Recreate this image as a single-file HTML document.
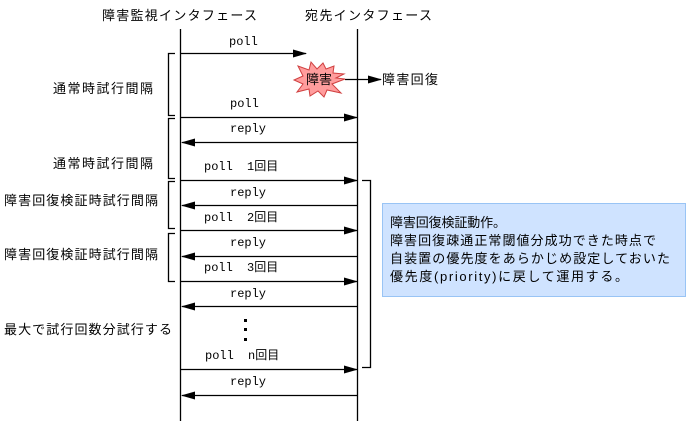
<!DOCTYPE html>
<html><head><meta charset="utf-8"><style>
html,body{margin:0;padding:0;background:#fff;width:688px;height:425px;overflow:hidden}
svg text{font-family:"Liberation Sans","Noto Sans CJK JP",sans-serif;font-size:13px;fill:#000}
svg .m text{font-family:"Liberation Mono","Noto Sans CJK JP",monospace;font-size:12px}
</style></head><body>
<svg width="688" height="425" viewBox="0 0 688 425" xmlns="http://www.w3.org/2000/svg">
<defs><marker id="a" markerWidth="14" markerHeight="8" refX="13" refY="4" orient="auto" markerUnits="userSpaceOnUse"><path d="M0,0 L14,4 L0,8 Z" fill="#000"/></marker></defs>
<text x="102" y="20" textLength="155">障害監視インタフェース</text>
<text x="305" y="20" textLength="127">宛先インタフェース</text>
<g stroke="#000" stroke-width="1.3" fill="none">
<line x1="180.5" y1="29" x2="180.5" y2="421"/>
<line x1="357.5" y1="29" x2="357.5" y2="421"/>
<path d="M175 53.5H168.5V115.5H175"/>
<path d="M175 118.5H168.5V178.5H175"/>
<path d="M175 181.5H168.5V228.5H175"/>
<path d="M175 233.5H168.5V281.5H175"/>
<path d="M362 180.5H370.5V367.5H362"/>
<line x1="181" y1="53.5" x2="306" y2="53.5" marker-end="url(#a)"/>
<line x1="345" y1="79.5" x2="381" y2="79.5" marker-end="url(#a)"/>
<line x1="181" y1="117.5" x2="357" y2="117.5" marker-end="url(#a)"/>
<line x1="357" y1="142.5" x2="182" y2="142.5" marker-end="url(#a)"/>
<line x1="181" y1="180.5" x2="357" y2="180.5" marker-end="url(#a)"/>
<line x1="357" y1="205.5" x2="182" y2="205.5" marker-end="url(#a)"/>
<line x1="181" y1="230.5" x2="357" y2="230.5" marker-end="url(#a)"/>
<line x1="357" y1="256.5" x2="182" y2="256.5" marker-end="url(#a)"/>
<line x1="181" y1="281.5" x2="357" y2="281.5" marker-end="url(#a)"/>
<line x1="357" y1="306.5" x2="182" y2="306.5" marker-end="url(#a)"/>
<line x1="181" y1="369.5" x2="357" y2="369.5" marker-end="url(#a)"/>
<line x1="357" y1="395.5" x2="182" y2="395.5" marker-end="url(#a)"/>
</g>
<polygon points="345,79 332,84 341,93 327,90 324,97 318,91 310,96 309,89 297,92 303,84 294,80 303,76 298,66 309,70 311,62 317,69 323,63 326,69 334,66 333,73 344,74 336,78" fill="#ff9d9d" stroke="#d04040" stroke-width="1"/>
<text x="306" y="84">障害</text>
<text x="382" y="84" textLength="56">障害回復</text>
<g class="m">
<text x="229" y="45">poll</text>
<text x="230" y="107">poll</text>
<text x="230" y="132">reply</text>
<text x="204" y="170">poll</text><text x="247" y="170">1回目</text>
<text x="230" y="196">reply</text>
<text x="204" y="221">poll</text><text x="247" y="221">2回目</text>
<text x="230" y="246">reply</text>
<text x="204" y="271">poll</text><text x="247" y="271">3回目</text>
<text x="230" y="297">reply</text>
<text x="205" y="359">poll</text><text x="248" y="359">n回目</text>
<text x="230" y="385">reply</text>
</g>
<rect x="244" y="319" width="3" height="3" fill="#000"/>
<rect x="244" y="328" width="3" height="3" fill="#000"/>
<rect x="244" y="338" width="3" height="3" fill="#000"/>
<text x="53" y="93" textLength="100">通常時試行間隔</text>
<text x="53" y="168" textLength="100">通常時試行間隔</text>
<text x="4" y="205" textLength="154">障害回復検証時試行間隔</text>
<text x="4" y="259" textLength="154">障害回復検証時試行間隔</text>
<text x="4" y="334" textLength="168">最大で試行回数分試行する</text>
<rect x="382.5" y="203.5" width="303" height="93" fill="#cfe3ff" stroke="#99c4f5" stroke-width="1"/>
<text x="390" y="227" textLength="116">障害回復検証動作。</text>
<text x="390" y="245" textLength="266">障害回復疎通正常閾値分成功できた時点で</text>
<text x="390" y="263" textLength="280">自装置の優先度をあらかじめ設定しておいた</text>
<text x="390" y="281" textLength="238">優先度(priority)に戻して運用する。</text>
</svg>
</body></html>
